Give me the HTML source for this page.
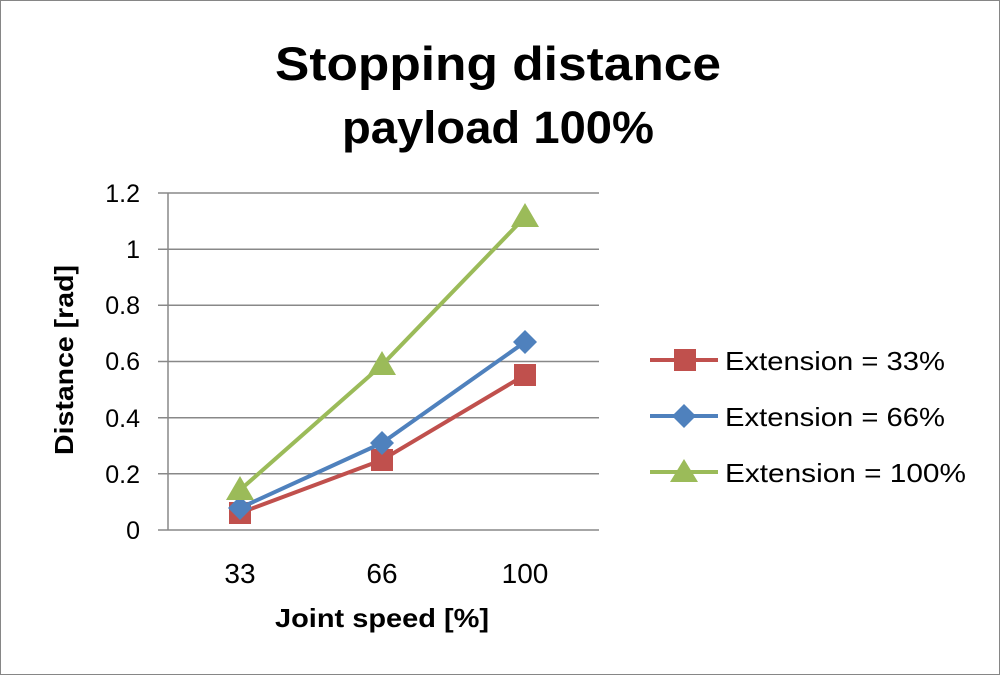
<!DOCTYPE html>
<html><head><meta charset="utf-8"><style>
html,body{margin:0;padding:0;background:#fff}
svg{display:block}
text{font-family:"Liberation Sans",sans-serif}
</style></head><body>
<svg width="1000" height="675" viewBox="0 0 1000 675">
<rect x="0.5" y="0.5" width="999" height="674" fill="#fff" stroke="#868686"/>
<text x="498" y="80" font-size="47" font-weight="bold" text-anchor="middle" fill="#000" textLength="446" lengthAdjust="spacingAndGlyphs">Stopping distance</text>
<text x="498" y="143" font-size="45" font-weight="bold" text-anchor="middle" fill="#000" textLength="312" lengthAdjust="spacingAndGlyphs">payload 100%</text>
<g stroke="#888" stroke-width="1.5">
<line x1="158" y1="193" x2="599" y2="193"/>
<line x1="158" y1="249.2" x2="599" y2="249.2"/>
<line x1="158" y1="305.3" x2="599" y2="305.3"/>
<line x1="158" y1="361.5" x2="599" y2="361.5"/>
<line x1="158" y1="417.7" x2="599" y2="417.7"/>
<line x1="158" y1="473.8" x2="599" y2="473.8"/>
<line x1="158" y1="530" x2="599" y2="530"/>
<line x1="168" y1="193" x2="168" y2="530"/>
</g>
<g font-size="25" fill="#000" text-anchor="end">
<text x="140" y="202">1.2</text>
<text x="140" y="258">1</text>
<text x="140" y="314">0.8</text>
<text x="140" y="370">0.6</text>
<text x="140" y="427">0.4</text>
<text x="140" y="483">0.2</text>
<text x="140" y="539">0</text>
</g>
<g font-size="28" fill="#000" text-anchor="middle">
<text x="240" y="583">33</text>
<text x="382" y="583">66</text>
<text x="525" y="583">100</text>
</g>
<text x="382" y="627" font-size="26" font-weight="bold" text-anchor="middle" textLength="214" lengthAdjust="spacingAndGlyphs">Joint speed [%]</text>
<text transform="translate(73,360) rotate(-90)" font-size="26" font-weight="bold" text-anchor="middle" textLength="190" lengthAdjust="spacingAndGlyphs">Distance [rad]</text>
<polyline points="240,513 382,460 525,375" fill="none" stroke="#c0504d" stroke-width="4"/>
<g fill="#c0504d">
<rect x="229" y="502" width="22" height="22"/><rect x="371" y="449" width="22" height="22"/><rect x="514" y="364" width="22" height="22"/>
</g>
<polyline points="240,508 382,443 525,342" fill="none" stroke="#4f81bd" stroke-width="4"/>
<g fill="#4f81bd">
<polygon points="240,496 252,508 240,520 228,508"/><polygon points="382,431 394,443 382,455 370,443"/><polygon points="525,330 537,342 525,354 513,342"/>
</g>
<polyline points="240,490 382,365 525,217" fill="none" stroke="#9bbb59" stroke-width="4"/>
<g fill="#9bbb59">
<polygon points="240,476 254,500 226,500"/><polygon points="382,351 396,375 368,375"/><polygon points="525,203 539,227 511,227"/>
</g>
<line x1="650" y1="360" x2="718" y2="360" stroke="#c0504d" stroke-width="4"/>
<rect x="674" y="349" width="22" height="22" fill="#c0504d"/>
<line x1="650" y1="416" x2="718" y2="416" stroke="#4f81bd" stroke-width="4"/>
<polygon points="684,404 696,416 684,428 672,416" fill="#4f81bd"/>
<line x1="650" y1="472" x2="718" y2="472" stroke="#9bbb59" stroke-width="4"/>
<polygon points="684,459 698,482 670,482" fill="#9bbb59"/>
<g font-size="26" fill="#000">
<text x="725" y="370" textLength="220" lengthAdjust="spacingAndGlyphs">Extension = 33%</text>
<text x="725" y="426" textLength="220" lengthAdjust="spacingAndGlyphs">Extension = 66%</text>
<text x="725" y="482" textLength="241" lengthAdjust="spacingAndGlyphs">Extension = 100%</text>
</g>
</svg>
</body></html>
